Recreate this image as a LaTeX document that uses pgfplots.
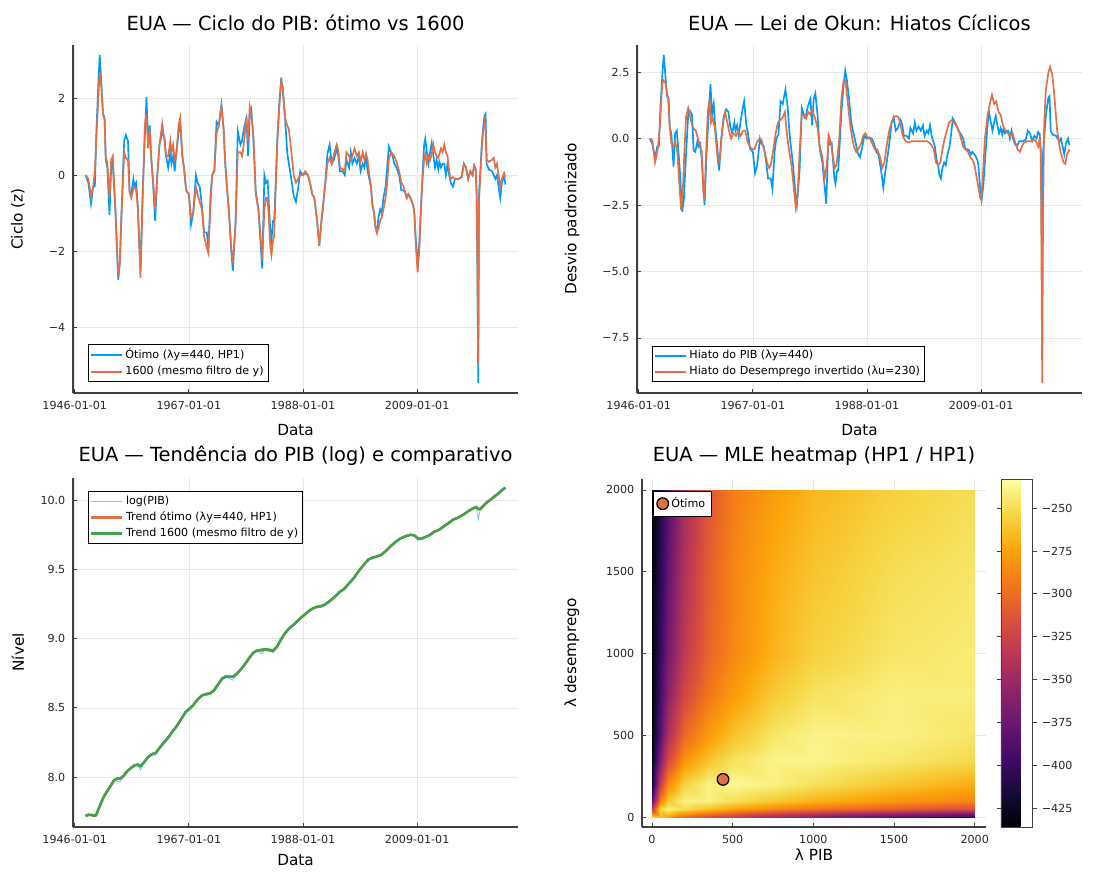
\documentclass[border=0pt]{standalone}
\usepackage{fontspec}
\setmainfont{DejaVu Sans}
\usepackage{pgfplots}
\usepackage{pgfplotstable}
\pgfplotsset{compat=1.18}

\definecolor{c1}{RGB}{0,154,250}
\definecolor{c2}{RGB}{227,111,71}
\definecolor{c3}{RGB}{62,164,78}

% Plots.jl-like look
\pgfplotsset{
  julia/.style={
    scale only axis,
    axis x line*=bottom, axis y line*=left,
    axis line style={black!75, line width=0.9pt},
    every tick/.style={black!75, line width=0.6pt},
    tick align=inside, major tick length=3pt,
    xmajorgrids, ymajorgrids,
    major grid style={black!9, line width=0.5pt},
    ticklabel style={font=\fontsize{8}{9}\selectfont, text=black!85},
    xticklabel style={yshift=-2.5pt},
    yticklabel style={xshift=-2pt},
    title style={font=\fontsize{14}{16}\selectfont, at={(axis description cs:0.5,1.04)}, anchor=center},
    label style={font=\fontsize{11}{13}\selectfont},
    legend style={font=\fontsize{8}{9.5}\selectfont, draw=black, line width=0.6pt,
      inner sep=1.2pt, fill=white},
    legend cell align=left,
    legend image code/.code={\draw[mark repeat=2,mark phase=2,##1]
      plot coordinates {(0pt,0pt) (11pt,0pt) (22pt,0pt)};},
  }
}

% cycle of GDP: optimum and lambda=1600
\pgfplotstableread{
t opt s1600
1948.00 0.00 0.00
1948.50 -0.20 -0.10
1949.00 -0.75 -0.55
1949.40 -0.30 -0.30
1949.70 -0.30 0.10
1950.00 1.20 1.00
1950.40 2.60 2.20
1950.60 3.15 2.70
1950.90 2.40 2.30
1951.20 1.60 1.60
1951.50 1.50 1.45
1951.70 0.40 0.50
1952.00 0.20 0.30
1952.40 -1.05 -0.60
1952.70 0.20 0.40
1953.00 0.30 0.50
1953.50 -1.00 -0.90
1954.00 -2.75 -2.65
1954.30 -2.30 -2.30
1954.60 -1.00 -1.10
1955.10 0.90 0.60
1955.40 1.05 0.45
1955.80 0.90 0.40
1956.10 -0.45 -0.45
1956.40 -0.50 -0.60
1956.80 -0.10 -0.35
1957.00 -0.30 -0.30
1957.30 -0.20 -0.40
1957.60 -0.80 -0.85
1958.10 -2.50 -2.70
1958.50 -0.50 -0.60
1958.90 1.00 1.30
1959.20 2.05 1.60
1959.50 0.90 0.70
1959.80 1.30 1.20
1960.10 0.40 0.40
1960.40 -0.20 -0.10
1960.80 -1.20 -0.90
1961.20 0.00 0.00
1961.60 0.80 0.80
1962.10 1.10 1.35
1962.50 1.00 0.90
1962.80 0.50 0.50
1963.20 0.20 0.50
1963.60 0.60 0.90
1963.80 0.30 0.60
1964.10 0.50 0.80
1964.40 0.10 0.40
1964.70 0.60 0.50
1965.10 1.10 1.30
1965.40 1.40 1.50
1965.80 0.50 0.50
1966.10 0.20 0.20
1966.50 -0.40 -0.40
1967.00 -0.50 -0.50
1967.40 -1.30 -1.10
1967.80 -1.00 -1.00
1968.30 0.00 -0.30
1968.60 -0.20 -0.50
1969.00 -0.30 -0.70
1969.40 -0.80 -0.90
1969.80 -1.50 -1.60
1970.30 -1.50 -1.90
1970.60 -1.90 -2.05
1971.00 -0.50 -0.70
1971.30 0.00 0.00
1971.70 0.15 0.10
1972.10 1.40 1.10
1972.50 1.30 1.30
1973.00 1.85 1.80
1973.40 1.20 1.20
1973.70 0.30 0.30
1974.00 -0.30 -0.30
1974.40 -1.00 -1.00
1974.80 -2.00 -1.90
1975.10 -2.50 -2.30
1975.60 -1.20 -1.30
1976.00 1.15 0.60
1976.50 0.80 0.60
1976.80 0.90 0.50
1977.10 1.20 0.80
1977.60 1.50 1.50
1977.90 0.50 0.90
1978.20 1.50 1.80
1978.50 1.70 1.60
1978.90 0.90 1.00
1979.30 -0.40 -0.50
1979.80 -0.90 -0.90
1980.20 -1.80 -1.60
1980.50 -2.45 -2.20
1980.90 0.00 -0.90
1981.20 -0.20 -0.60
1981.50 -0.15 -0.60
1982.00 -1.50 -1.90
1982.20 -1.70 -2.10
1982.50 -1.20 -1.70
1982.70 -1.20 -1.60
1982.90 -0.50 -0.70
1983.30 1.00 0.90
1983.70 2.00 1.90
1984.00 2.55 2.45
1984.30 2.20 2.30
1984.70 1.50 1.50
1985.10 0.60 1.30
1985.40 0.30 1.20
1985.80 -0.05 0.70
1986.30 -0.55 0.00
1986.70 -0.70 -0.20
1987.10 -0.35 -0.10
1987.50 0.10 0.00
1988.00 0.00 0.00
1988.40 0.05 0.10
1988.90 0.00 0.00
1989.30 -0.20 -0.20
1989.70 -0.50 -0.50
1990.10 -0.60 -0.60
1990.60 -1.20 -1.20
1991.00 -1.85 -1.85
1991.40 -1.20 -1.20
1991.70 -0.80 -0.80
1992.10 -0.20 -0.25
1992.50 0.55 0.30
1992.90 0.80 0.45
1993.30 0.30 0.30
1993.70 0.40 0.55
1994.20 0.70 0.80
1994.50 0.50 0.65
1994.80 0.10 0.20
1995.30 0.10 0.15
1995.70 0.00 0.10
1996.00 0.40 0.60
1996.50 0.20 0.50
1996.80 0.60 0.40
1997.10 0.30 0.50
1997.50 0.45 0.70
1997.90 0.30 0.50
1998.30 0.50 0.60
1998.60 0.10 0.35
1999.00 0.30 0.60
1999.30 0.20 0.40
1999.60 0.50 0.55
1999.90 0.10 0.40
2000.20 -0.10 0.00
2000.50 -0.30 -0.30
2000.80 -0.80 -0.80
2001.10 -1.00 -1.00
2001.30 -1.35 -1.30
2001.60 -1.50 -1.50
2001.90 -1.10 -1.40
2002.20 -0.90 -1.20
2002.50 -1.00 -1.10
2002.80 -0.60 -0.90
2003.20 -0.30 -0.60
2003.50 0.20 -0.20
2003.80 0.75 0.40
2004.20 0.60 0.60
2004.50 0.50 0.55
2004.80 0.30 0.50
2005.20 0.20 0.35
2005.70 0.00 0.10
2006.10 -0.40 -0.20
2006.50 -0.40 -0.30
2006.80 -0.45 -0.45
2007.10 -0.60 -0.60
2007.40 -0.50 -0.50
2007.80 -0.60 -0.60
2008.30 -0.80 -0.80
2008.50 -1.00 -1.00
2008.80 -1.80 -1.90
2009.10 -2.30 -2.55
2009.40 -1.80 -2.00
2009.70 -0.90 -0.90
2010.00 0.00 -0.10
2010.30 0.80 0.40
2010.50 0.95 0.55
2010.80 0.60 0.30
2011.10 0.30 0.50
2011.40 0.60 0.40
2011.70 0.85 0.55
2012.00 0.50 0.80
2012.30 0.20 0.60
2012.60 0.40 0.50
2012.90 0.15 0.45
2013.10 0.35 0.55
2013.40 0.20 0.70
2013.70 0.30 0.60
2014.00 0.30 0.80
2014.30 0.00 0.60
2014.60 0.30 0.50
2014.90 0.00 0.10
2015.20 -0.20 -0.10
2015.60 -0.30 -0.05
2016.00 -0.10 -0.10
2016.60 -0.10 -0.10
2017.20 -0.05 -0.05
2017.60 0.30 0.30
2018.00 0.20 0.20
2018.40 -0.10 -0.10
2018.80 0.10 0.10
2019.20 0.00 0.00
2019.50 0.25 0.25
2019.80 0.15 0.15
2019.95 -0.50 -0.40
2020.10 -2.50 -2.30
2020.25 -5.45 -4.95
2020.40 -0.50 -0.70
2020.60 0.00 -0.10
2020.90 0.80 0.70
2021.20 1.30 1.20
2021.40 1.55 1.40
2021.60 1.60 1.20
2021.80 0.30 0.40
2022.20 0.15 0.35
2022.80 0.10 0.40
2023.10 0.00 0.45
2023.40 -0.10 0.20
2023.70 0.00 0.30
2024.00 -0.30 0.00
2024.30 -0.60 -0.30
2024.60 -0.20 -0.10
2025.00 0.00 0.05
2025.25 -0.25 -0.05
}\cyc

% inverted unemployment gap (standardized)
\pgfplotstableread{
t u
1948.00 0.00
1948.50 -0.05
1949.00 -0.90
1949.50 -0.40
1949.90 0.50
1950.30 2.00
1950.50 2.20
1950.90 2.10
1951.40 1.50
1951.70 0.50
1952.00 -0.20
1952.40 -0.30
1952.70 -0.10
1953.10 -0.50
1953.40 -1.50
1953.80 -2.70
1954.10 -2.00
1954.40 -0.50
1954.70 0.80
1955.10 1.15
1955.50 0.80
1955.80 0.50
1956.20 0.35
1956.50 0.30
1956.90 0.00
1957.20 -0.20
1957.60 -0.50
1957.90 -2.10
1958.10 -2.20
1958.40 -0.50
1958.70 1.00
1959.00 1.50
1959.30 0.60
1959.60 0.80
1960.00 0.40
1960.30 -0.30
1960.60 -0.90
1960.90 -0.80
1961.20 0.00
1961.60 0.70
1961.90 1.00
1962.30 0.60
1962.60 0.30
1963.00 0.00
1963.40 0.20
1963.90 0.10
1964.30 0.30
1964.70 0.10
1965.20 0.30
1965.60 0.30
1966.00 -0.10
1966.40 -0.30
1966.90 -0.40
1967.30 -0.40
1967.80 -0.10
1968.30 0.00
1968.60 -0.05
1968.90 -0.30
1969.30 -0.60
1969.60 -0.90
1970.00 -1.10
1970.30 -1.00
1970.70 -0.50
1971.20 0.20
1971.60 0.60
1972.10 0.70
1972.50 0.80
1972.90 1.00
1973.20 0.30
1973.70 -0.50
1974.10 -1.00
1974.50 -1.80
1974.90 -2.60
1975.20 -2.20
1975.60 -0.50
1976.00 0.90
1976.40 0.90
1976.80 0.75
1977.20 1.00
1977.60 0.90
1977.90 1.05
1978.40 0.80
1978.90 0.40
1979.30 -0.30
1979.80 -0.70
1980.20 -1.50
1980.60 -1.00
1981.00 0.10
1981.40 -0.20
1981.80 -0.80
1982.10 -1.10
1982.40 -1.00
1982.90 0.00
1983.30 1.50
1983.70 2.20
1984.00 2.20
1984.40 1.50
1984.80 0.70
1985.20 0.10
1985.60 -0.30
1986.00 -0.50
1986.40 -0.40
1986.90 -0.20
1987.30 0.10
1987.70 0.20
1988.20 0.00
1988.60 0.00
1989.00 -0.20
1989.40 -0.40
1989.90 -0.40
1990.40 -0.70
1990.80 -1.10
1991.20 -0.90
1991.60 -0.30
1992.10 0.30
1992.50 0.60
1992.90 0.80
1993.40 0.85
1993.80 0.80
1994.20 0.50
1994.60 0.10
1995.10 -0.10
1995.70 -0.15
1996.20 -0.10
1996.80 -0.10
1997.40 -0.10
1998.00 -0.10
1998.50 -0.10
1999.10 -0.10
1999.70 -0.20
2000.30 -0.40
2000.70 -0.90
2001.10 -1.00
2001.50 -0.90
2001.90 -0.40
2002.30 0.00
2002.70 0.30
2003.10 0.60
2003.60 0.70
2004.00 0.60
2004.40 0.50
2004.90 0.30
2005.30 0.00
2005.70 -0.30
2006.10 -0.40
2006.60 -0.50
2007.00 -0.70
2007.40 -0.80
2007.80 -1.00
2008.30 -1.60
2008.80 -2.20
2009.00 -2.30
2009.30 -1.50
2009.70 0.00
2010.20 0.90
2010.60 1.30
2011.00 1.65
2011.40 1.30
2011.80 1.40
2012.20 1.00
2012.60 0.90
2013.00 0.50
2013.50 0.30
2013.90 0.20
2014.40 0.10
2014.80 0.20
2015.20 -0.10
2015.70 -0.40
2016.10 -0.50
2016.50 -0.30
2016.90 -0.15
2017.50 -0.10
2018.10 -0.10
2018.70 -0.05
2019.10 -0.10
2019.50 -0.30
2019.80 0.00
2020.00 -0.50
2020.15 -6.00
2020.25 -9.20
2020.40 -3.00
2020.60 0.50
2020.90 1.80
2021.10 2.10
2021.40 2.50
2021.70 2.70
2022.10 2.40
2022.40 1.80
2023.00 0.30
2023.60 -0.50
2024.20 -0.90
2024.50 -0.95
2024.80 -0.60
2025.25 -0.40
}\ugap

% log GDP and the two trends
\pgfplotstableread{
t lpib t440 t1600
1948.0 7.715 7.720 7.720
1948.5 7.735 7.728 7.728
1949.0 7.725 7.728 7.727
1949.5 7.715 7.722 7.722
1949.9 7.722 7.725 7.725
1950.4 7.780 7.770 7.770
1950.8 7.820 7.810 7.810
1951.3 7.860 7.855 7.855
1951.9 7.900 7.895 7.895
1952.5 7.930 7.930 7.930
1953.2 7.980 7.975 7.975
1953.8 7.970 7.990 7.990
1954.4 7.965 7.990 7.992
1955.0 8.010 8.010 8.010
1955.6 8.040 8.040 8.040
1956.3 8.060 8.065 8.065
1957.0 8.080 8.085 8.085
1957.6 8.090 8.090 8.090
1958.1 8.050 8.080 8.080
1958.7 8.100 8.105 8.105
1959.5 8.150 8.145 8.145
1960.2 8.160 8.165 8.165
1960.9 8.160 8.175 8.175
1961.5 8.200 8.205 8.205
1962.3 8.250 8.245 8.245
1963.2 8.280 8.285 8.285
1964.0 8.330 8.330 8.330
1964.8 8.370 8.370 8.370
1965.6 8.420 8.420 8.420
1966.4 8.470 8.470 8.470
1967.0 8.490 8.490 8.490
1967.8 8.520 8.520 8.520
1968.6 8.560 8.560 8.560
1969.4 8.590 8.590 8.590
1970.2 8.590 8.600 8.600
1970.9 8.600 8.605 8.605
1971.6 8.630 8.625 8.625
1972.3 8.670 8.665 8.665
1973.1 8.720 8.710 8.710
1973.7 8.725 8.725 8.725
1974.4 8.715 8.725 8.725
1975.1 8.700 8.725 8.725
1975.8 8.740 8.745 8.745
1976.6 8.780 8.780 8.780
1977.4 8.820 8.820 8.820
1978.2 8.870 8.865 8.865
1978.9 8.905 8.900 8.900
1979.6 8.910 8.915 8.915
1980.4 8.890 8.915 8.920
1981.1 8.925 8.920 8.925
1981.8 8.915 8.915 8.920
1982.5 8.900 8.910 8.915
1983.2 8.940 8.940 8.940
1983.9 9.000 8.990 8.990
1984.6 9.040 9.035 9.035
1985.5 9.070 9.075 9.075
1986.4 9.110 9.105 9.105
1987.3 9.140 9.140 9.140
1988.2 9.170 9.170 9.170
1989.1 9.200 9.200 9.200
1989.9 9.220 9.220 9.220
1990.7 9.230 9.230 9.232
1991.3 9.225 9.232 9.235
1992.0 9.240 9.245 9.245
1992.9 9.270 9.270 9.270
1993.8 9.300 9.300 9.300
1994.7 9.335 9.335 9.335
1995.6 9.360 9.360 9.360
1996.5 9.400 9.400 9.400
1997.4 9.440 9.440 9.440
1998.3 9.490 9.490 9.490
1999.1 9.530 9.530 9.530
2000.0 9.570 9.570 9.570
2000.8 9.585 9.585 9.585
2001.6 9.590 9.593 9.593
2002.4 9.605 9.605 9.605
2003.3 9.635 9.635 9.635
2004.2 9.670 9.670 9.670
2005.1 9.700 9.700 9.700
2006.0 9.725 9.725 9.725
2006.9 9.740 9.740 9.740
2007.8 9.750 9.750 9.750
2008.5 9.745 9.745 9.745
2009.1 9.710 9.725 9.725
2009.6 9.715 9.720 9.720
2010.3 9.730 9.730 9.730
2011.2 9.745 9.745 9.745
2012.1 9.770 9.770 9.770
2013.0 9.785 9.785 9.785
2013.9 9.810 9.810 9.810
2014.8 9.835 9.835 9.835
2015.7 9.860 9.860 9.860
2016.6 9.875 9.875 9.875
2017.5 9.895 9.895 9.895
2018.4 9.920 9.920 9.920
2019.3 9.940 9.940 9.940
2019.9 9.955 9.950 9.950
2020.25 9.860 9.935 9.935
2020.6 9.930 9.935 9.935
2021.1 9.955 9.955 9.955
2021.7 9.985 9.980 9.980
2022.4 10.000 10.000 10.000
2023.2 10.025 10.025 10.025
2024.0 10.050 10.050 10.050
2024.7 10.075 10.075 10.075
2025.25 10.090 10.090 10.090
}\lgdp

% log-likelihood grid (lambda PIB, lambda desemprego)
\pgfplotstableread{
x y z
0 0 -255
50 0 -262
100 0 -275
200 0 -300
350 0 -318
500 0 -330
750 0 -348
1000 0 -362
1500 0 -385
2000 0 -402

0 50 -330
50 50 -252
100 50 -240
200 50 -250
350 50 -262
500 50 -275
750 50 -287
1000 50 -296
1500 50 -308
2000 50 -318

0 100 -380
50 100 -290
100 100 -258
200 100 -240
350 100 -240
500 100 -249
750 100 -259
1000 100 -268
1500 100 -280
2000 100 -288

0 200 -420
50 200 -330
100 200 -285
200 200 -255
350 200 -240
500 200 -236
750 200 -240
1000 200 -248
1500 200 -260
2000 200 -270

0 350 -430
50 350 -365
100 350 -320
200 350 -282
350 350 -262
500 350 -248
750 350 -239
1000 350 -238
1500 350 -245
2000 350 -252

0 500 -435
50 500 -385
100 500 -342
200 500 -302
350 500 -278
500 500 -262
750 500 -246
1000 500 -239
1500 500 -240
2000 500 -246

0 750 -435
50 750 -395
100 750 -360
200 750 -322
350 750 -295
500 750 -278
750 750 -259
1000 750 -248
1500 750 -241
2000 750 -242

0 1000 -435
50 1000 -400
100 1000 -370
200 1000 -333
350 1000 -304
500 1000 -287
750 1000 -268
1000 1000 -256
1500 1000 -246
2000 1000 -243

0 1500 -435
50 1500 -407
100 1500 -378
200 1500 -340
350 1500 -308
500 1500 -288
750 1500 -271
1000 1500 -261
1500 1500 -250
2000 1500 -246

0 2000 -435
50 2000 -412
100 2000 -385
200 2000 -345
350 2000 -312
500 2000 -292
750 2000 -277
1000 2000 -267
1500 2000 -256
2000 2000 -250
}\mle

\begin{document}
\begin{tikzpicture}
% 1 px of the reference = 0.72pt
\useasboundingbox (0pt,0pt) rectangle (805.68pt,627.84pt);

% ---- top left: GDP cycle
\begin{axis}[julia,
  at={(52.56pt,344.88pt)}, anchor=south west,
  width=320.4pt, height=250.56pt,
  xmin=1945.68, xmax=2027.57, ymin=-5.71, ymax=3.41,
  xtick={1946,1967,1988,2009},
  xticklabels={1946-01-01,1967-01-01,1988-01-01,2009-01-01},
  ytick={-4,-2,0,2}, yticklabels={−4,−2,0,2},
  title={EUA — Ciclo do PIB: ótimo vs 1600},
  xlabel={Data}, ylabel={Ciclo (z)},
  xlabel style={at={(axis description cs:0.5,-0.106)}, anchor=center},
  ylabel style={at={(axis description cs:-0.124,0.5)}, anchor=center},
  legend style={at={(0.034,0.032)}, anchor=south west},
  legend image post style={line width=1.4pt},
]
\addplot[c1, line width=1.2pt] table[x=t, y=opt] {\cyc};
\addlegendentry{Ótimo (λy=440, HP1)}
\addplot[c2, line width=1.2pt] table[x=t, y=s1600] {\cyc};
\addlegendentry{1600 (mesmo filtro de y)}
\end{axis}

% ---- top right: Okun gaps
\begin{axis}[julia,
  at={(458.64pt,344.88pt)}, anchor=south west,
  width=320.4pt, height=250.56pt,
  xmin=1945.68, xmax=2027.57, ymin=-9.57, ymax=3.52,
  xtick={1946,1967,1988,2009},
  xticklabels={1946-01-01,1967-01-01,1988-01-01,2009-01-01},
  ytick={-7.5,-5,-2.5,0,2.5}, yticklabels={−7.5,−5.0,−2.5,0.0,2.5},
  title={EUA — Lei de Okun: Hiatos Cíclicos},
  xlabel={Data}, ylabel={Desvio padronizado},
  xlabel style={at={(axis description cs:0.5,-0.106)}, anchor=center},
  ylabel style={at={(axis description cs:-0.146,0.5)}, anchor=center},
  legend style={at={(0.034,0.032)}, anchor=south west},
  legend image post style={line width=1.4pt},
]
\addplot[c1, line width=1.2pt] table[x=t, y=opt] {\cyc};
\addlegendentry{Hiato do PIB (λy=440)}
\addplot[c2, line width=1.2pt] table[x=t, y=u] {\ugap};
\addlegendentry{Hiato do Desemprego invertido (λu=230)}
\end{axis}

% ---- bottom left: log GDP and trends
\begin{axis}[julia,
  at={(52.56pt,32.4pt)}, anchor=south west,
  width=320.4pt, height=251.28pt,
  xmin=1945.68, xmax=2027.57, ymin=7.64, ymax=10.16,
  xtick={1946,1967,1988,2009},
  xticklabels={1946-01-01,1967-01-01,1988-01-01,2009-01-01},
  ytick={8,8.5,9,9.5,10}, yticklabels={8.0,8.5,9.0,9.5,10.0},
  title={EUA — Tendência do PIB (log) e comparativo},
  xlabel={Data}, ylabel={Nível},
  xlabel style={at={(axis description cs:0.5,-0.095)}, anchor=center},
  ylabel style={at={(axis description cs:-0.124,0.5)}, anchor=center},
  legend style={at={(0.034,0.963)}, anchor=north west},
]
\addplot[c1!55, line width=0.6pt] table[x=t, y=lpib] {\lgdp};
\addlegendentry{log(PIB)}
\addplot[c2, line width=1.8pt] table[x=t, y=t440] {\lgdp};
\addlegendentry{Trend ótimo (λy=440, HP1)}
\addplot[c3, line width=1.8pt] table[x=t, y=t1600] {\lgdp};
\addlegendentry{Trend 1600 (mesmo filtro de y)}
\end{axis}

% ---- bottom right: likelihood heatmap
\begin{axis}[julia,
  at={(462.24pt,32.4pt)}, anchor=south west,
  width=247.68pt, height=250.56pt,
  xmin=-62, xmax=2070, ymin=-61, ymax=2067,
  xtick={0,500,1000,1500,2000}, ytick={0,500,1000,1500,2000},
  xticklabels={0,500,1000,1500,2000}, yticklabels={0,500,1000,1500,2000},
  title={EUA — MLE heatmap (HP1 / HP1)},
  title style={at={(axis description cs:0.5,1.043)}},
  xlabel={λ PIB}, ylabel={λ desemprego},
  xlabel style={at={(axis description cs:0.5,-0.08)}, anchor=center},
  ylabel style={at={(axis description cs:-0.2035,0.5)}, anchor=center},
  colormap={inferno}{rgb255=(0,0,4) rgb255=(22,11,57) rgb255=(66,10,104)
    rgb255=(106,23,110) rgb255=(147,38,103) rgb255=(188,55,84) rgb255=(221,81,58)
    rgb255=(243,120,25) rgb255=(252,165,10) rgb255=(246,215,70) rgb255=(252,255,164)},
  point meta min=-436, point meta max=-233,
  colorbar,
  colorbar style={
    at={(parent axis.south east)}, anchor=south west, xshift=2.2pt,
    width=23pt, height=250.56pt,
    axis line style={black!75, line width=0.6pt},
    ytick={-425,-400,-375,-350,-325,-300,-275,-250},
    yticklabels={−425,−400,−375,−350,−325,−300,−275,−250},
    yticklabel style={font=\fontsize{8}{9}\selectfont, text=black!85},
    tick align=outside, major tick length=3pt,
  },
  legend style={at={(0.032,0.966)}, anchor=north west, inner sep=2.5pt},
  legend image code/.code={\draw[#1] plot coordinates {(5pt,0pt)};},
]
\addplot[surf, shader=interp, mesh/cols=10, point meta=explicit, forget plot]
  table[x=x, y=y, meta=z] {\mle};
\addplot[only marks, mark=*, mark size=4.2pt,
  mark options={fill=c2, draw=black, line width=0.9pt}]
  coordinates {(440,230)};
\addlegendentry{Ótimo}
\end{axis}
\end{tikzpicture}
\end{document}
